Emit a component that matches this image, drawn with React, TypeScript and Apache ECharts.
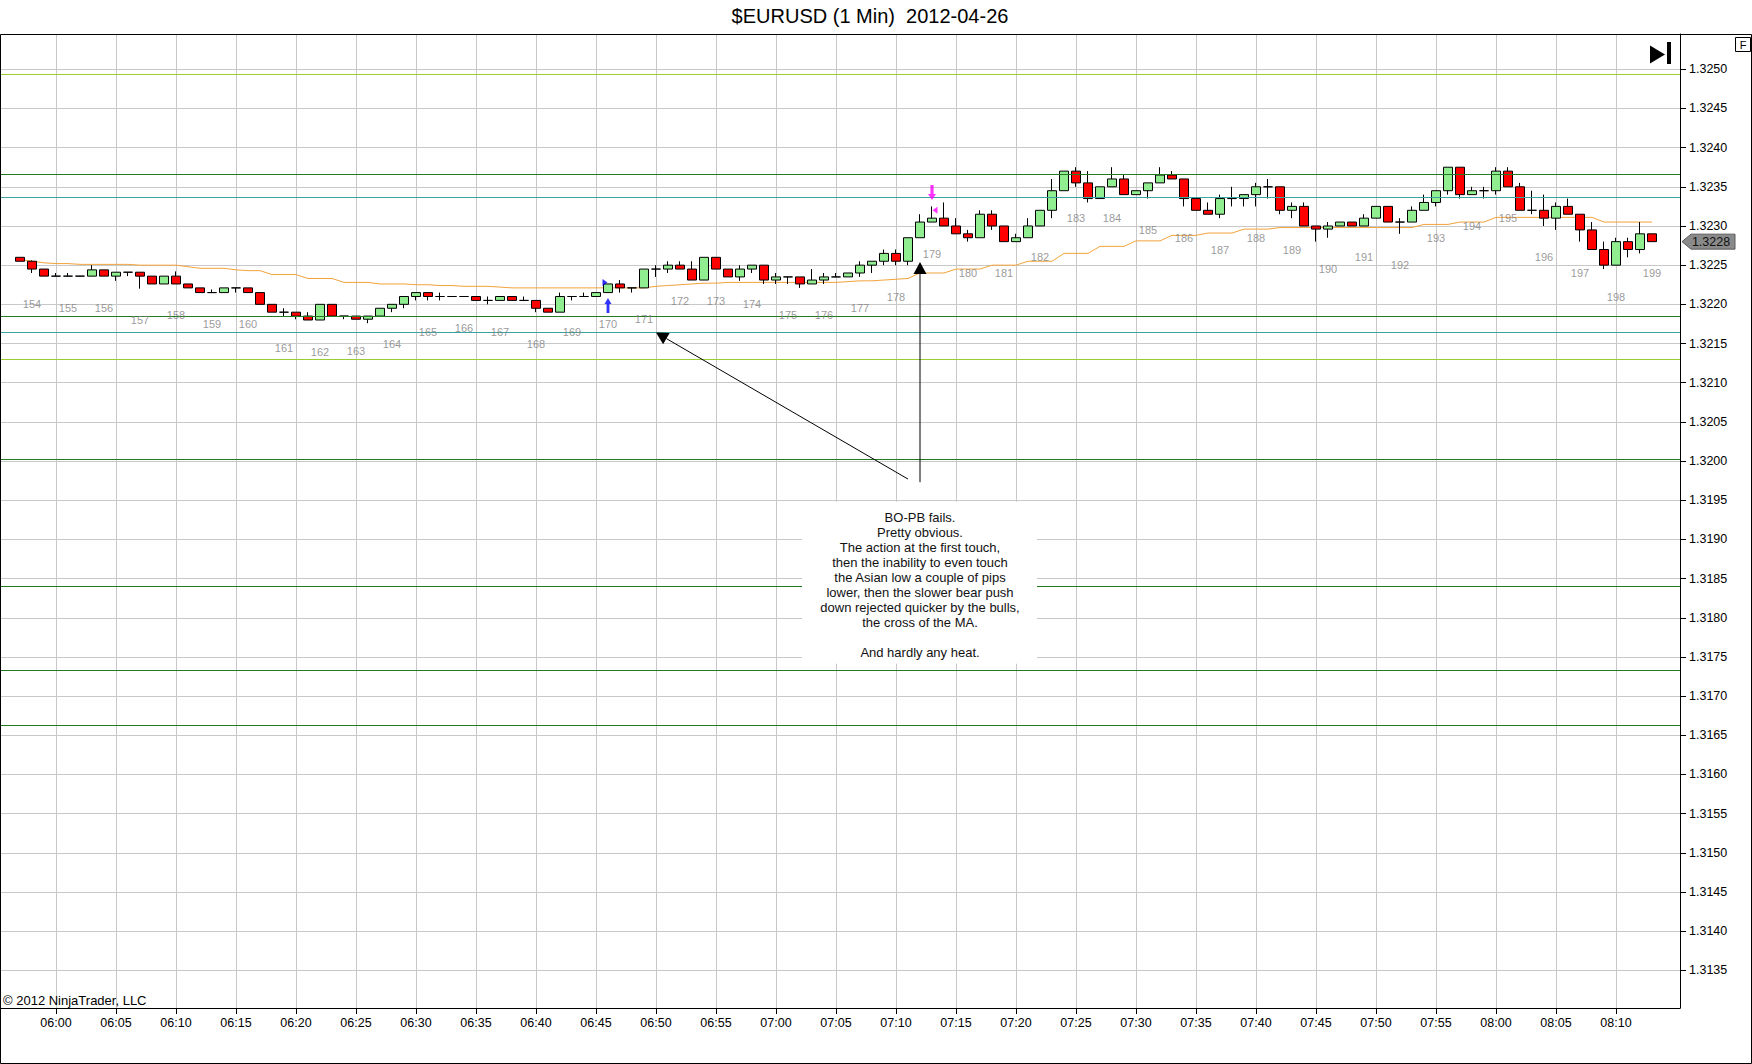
import React, { useEffect, useRef } from 'react';
import * as echarts from 'echarts';

const FONT = '"Liberation Sans", Arial, Helvetica, sans-serif';

// ---------- data ----------
const titleText = '$EURUSD (1 Min)  2012-04-26';
const firstBarTime = '05:57';

const opens = [
  1.3226, 1.32255, 1.32245, 1.32236, 1.32236, 1.32236, 1.32236, 1.32244, 1.32236, 1.32241,
  1.32241, 1.32236, 1.32226, 1.32236, 1.32226, 1.32221, 1.32215, 1.32215, 1.32221, 1.32221,
  1.32215, 1.322, 1.3219, 1.3219, 1.32185, 1.3218, 1.322, 1.32185, 1.32185, 1.32181,
  1.32185, 1.32195, 1.322, 1.3221, 1.32215, 1.3221, 1.3221, 1.3221, 1.3221, 1.32205,
  1.32205, 1.3221, 1.32205, 1.32205, 1.32195, 1.3219, 1.3221, 1.3221, 1.3221, 1.32215,
  1.32226, 1.32221, 1.32221, 1.32245, 1.32245, 1.3225, 1.32245, 1.32231, 1.3226, 1.32245,
  1.32235, 1.32245, 1.3225, 1.32231, 1.32235, 1.32235, 1.32226, 1.32231, 1.32235, 1.32235,
  1.3224, 1.3225, 1.32255, 1.32265, 1.32255, 1.32285, 1.32305, 1.3231, 1.323, 1.3229,
  1.32285, 1.32315, 1.323, 1.3228, 1.32285, 1.323, 1.3232, 1.32345, 1.3237, 1.32355,
  1.32335, 1.3235, 1.3236, 1.3234, 1.32345, 1.32355, 1.32365, 1.3236, 1.32335, 1.3232,
  1.32315, 1.32335, 1.32335, 1.3234, 1.3235, 1.3235, 1.3232, 1.32325, 1.323, 1.32296,
  1.323, 1.32305, 1.323, 1.3231, 1.32325, 1.32305, 1.32305, 1.3232, 1.3233, 1.32345,
  1.32375, 1.3234, 1.32345, 1.32345, 1.3237, 1.3235, 1.3232, 1.3232, 1.3231, 1.32325,
  1.32315, 1.32295, 1.3227, 1.3225, 1.3228, 1.3227, 1.3229,
];
const closes = [
  1.32255, 1.32245, 1.32236, 1.32236, 1.32236, 1.32236, 1.32244, 1.32236, 1.32241, 1.32241,
  1.32236, 1.32226, 1.32236, 1.32226, 1.32221, 1.32215, 1.32215, 1.32221, 1.32221, 1.32215,
  1.322, 1.3219, 1.3219, 1.32185, 1.3218, 1.322, 1.32185, 1.32185, 1.32181, 1.32185,
  1.32195, 1.322, 1.3221, 1.32215, 1.3221, 1.3221, 1.3221, 1.3221, 1.32205, 1.32205,
  1.3221, 1.32205, 1.32205, 1.32195, 1.3219, 1.3221, 1.3221, 1.3221, 1.32215, 1.32226,
  1.32221, 1.32221, 1.32245, 1.32245, 1.3225, 1.32245, 1.32231, 1.3226, 1.32245, 1.32235,
  1.32245, 1.3225, 1.32231, 1.32235, 1.32235, 1.32226, 1.32231, 1.32235, 1.32235, 1.3224,
  1.3225, 1.32255, 1.32265, 1.32255, 1.32285, 1.32305, 1.3231, 1.323, 1.3229, 1.32285,
  1.32315, 1.323, 1.3228, 1.32285, 1.323, 1.3232, 1.32345, 1.3237, 1.32355, 1.32335,
  1.3235, 1.3236, 1.3234, 1.32345, 1.32355, 1.32365, 1.3236, 1.32335, 1.3232, 1.32315,
  1.32335, 1.32335, 1.3234, 1.3235, 1.3235, 1.3232, 1.32325, 1.323, 1.32296, 1.323,
  1.32305, 1.323, 1.3231, 1.32325, 1.32305, 1.32305, 1.3232, 1.3233, 1.32345, 1.32375,
  1.3234, 1.32345, 1.32345, 1.3237, 1.3235, 1.3232, 1.3232, 1.3231, 1.32325, 1.32315,
  1.32295, 1.3227, 1.3225, 1.3228, 1.3227, 1.3229, 1.3228,
];
const highs = [
  1.3226, 1.32256, 1.32245, 1.3224, 1.3224, 1.32236, 1.3225, 1.32244, 1.32241, 1.32241,
  1.32241, 1.32236, 1.32236, 1.32242, 1.32226, 1.32221, 1.32219, 1.32221, 1.32221, 1.32221,
  1.32215, 1.322, 1.32195, 1.3219, 1.3219, 1.322, 1.322, 1.32185, 1.32185, 1.32185,
  1.32195, 1.322, 1.3221, 1.32215, 1.32215, 1.32215, 1.3221, 1.3221, 1.3221, 1.3221,
  1.3221, 1.3221, 1.3221, 1.32205, 1.32195, 1.32215, 1.3221, 1.32215, 1.32215, 1.32226,
  1.32231, 1.32221, 1.32245, 1.3225, 1.32255, 1.32255, 1.32255, 1.3226, 1.3226, 1.32245,
  1.3225, 1.3225, 1.3225, 1.3224, 1.32235, 1.32235, 1.32245, 1.3224, 1.3224, 1.3224,
  1.32255, 1.32255, 1.3227, 1.3227, 1.32285, 1.32315, 1.32325, 1.3233, 1.3231, 1.32295,
  1.3232, 1.3232, 1.323, 1.3229, 1.3231, 1.3232, 1.3236, 1.3237, 1.32375, 1.3237,
  1.3235, 1.32375, 1.32365, 1.32345, 1.32355, 1.32375, 1.3237, 1.3236, 1.32335, 1.3233,
  1.3234, 1.3235, 1.3234, 1.32355, 1.3236, 1.3235, 1.3233, 1.3233, 1.323, 1.32305,
  1.32305, 1.32305, 1.32315, 1.32325, 1.32325, 1.3231, 1.32325, 1.3234, 1.32345, 1.32375,
  1.32375, 1.3235, 1.3235, 1.32375, 1.32375, 1.32355, 1.32345, 1.3234, 1.3233, 1.32335,
  1.32315, 1.32305, 1.3228, 1.32285, 1.32285, 1.32305, 1.3229,
];
const lows = [
  1.32255, 1.3224, 1.32236, 1.32236, 1.32236, 1.32236, 1.32236, 1.32236, 1.3223, 1.32236,
  1.3222, 1.32226, 1.32226, 1.32226, 1.32221, 1.32215, 1.32215, 1.32215, 1.32215, 1.32215,
  1.322, 1.3219, 1.32185, 1.32181, 1.3218, 1.3218, 1.32185, 1.32181, 1.32181, 1.32176,
  1.32185, 1.3219, 1.32195, 1.32205, 1.32205, 1.32205, 1.3221, 1.3221, 1.32205, 1.322,
  1.32205, 1.32205, 1.32205, 1.3219, 1.3219, 1.3219, 1.32205, 1.3221, 1.3221, 1.32215,
  1.32215, 1.32215, 1.32221, 1.32235, 1.3224, 1.32245, 1.32231, 1.32231, 1.32245, 1.32235,
  1.3223, 1.3224, 1.32226, 1.32226, 1.32226, 1.32221, 1.32226, 1.32226, 1.32235, 1.32235,
  1.32235, 1.3224, 1.3225, 1.3225, 1.3225, 1.32285, 1.32305, 1.323, 1.3229, 1.3228,
  1.32285, 1.32295, 1.3228, 1.3228, 1.32285, 1.323, 1.3231, 1.32345, 1.3235, 1.3233,
  1.32335, 1.3235, 1.3234, 1.3234, 1.32335, 1.32355, 1.3236, 1.32325, 1.3232, 1.32315,
  1.3231, 1.32325, 1.32325, 1.32325, 1.32335, 1.32315, 1.3231, 1.323, 1.3228, 1.32285,
  1.323, 1.323, 1.323, 1.3231, 1.32305, 1.3229, 1.32305, 1.3232, 1.32325, 1.3234,
  1.32335, 1.3234, 1.32335, 1.3234, 1.3235, 1.3232, 1.32315, 1.323, 1.32295, 1.32315,
  1.3228, 1.3227, 1.32245, 1.3225, 1.3226, 1.32265, 1.3228,
];
const maValues = [
  1.32257, 1.32255, 1.32253, 1.32252, 1.32252, 1.32251, 1.32251, 1.32251, 1.32251, 1.32251,
  1.3225, 1.3225, 1.3225, 1.3225, 1.32248, 1.32246, 1.32246, 1.32246, 1.32244, 1.32243,
  1.32243, 1.32238, 1.32238, 1.32238, 1.32233, 1.32233, 1.32233, 1.32228, 1.32228, 1.32228,
  1.32226, 1.32226, 1.32226, 1.32225, 1.32225, 1.32224, 1.32224, 1.32223, 1.32223, 1.32223,
  1.32222, 1.32221, 1.32221, 1.32221, 1.32221, 1.32221, 1.32221, 1.32221, 1.32221, 1.32221,
  1.32221, 1.32221, 1.32221, 1.32223, 1.32224, 1.32225, 1.32226, 1.32227, 1.32227, 1.32228,
  1.32228, 1.32228, 1.32228, 1.32228, 1.32228, 1.32228, 1.32228, 1.32228, 1.32228, 1.32229,
  1.3223, 1.3223, 1.32231, 1.32232, 1.32233, 1.3224, 1.3224, 1.3224, 1.32245, 1.32245,
  1.32245, 1.3225, 1.3225, 1.3225, 1.32255, 1.32255, 1.32255, 1.32265, 1.32265, 1.32265,
  1.32274, 1.32274, 1.32274, 1.32281, 1.32281, 1.32281, 1.32288, 1.32288, 1.32288, 1.32291,
  1.32291, 1.32291, 1.32296, 1.32296, 1.32296, 1.32298, 1.32298, 1.32298, 1.32298, 1.32298,
  1.32298, 1.32298, 1.32298, 1.32298, 1.32298, 1.32298, 1.32298, 1.32302, 1.32302, 1.32302,
  1.32305, 1.32305, 1.32305, 1.32311, 1.32311, 1.32311, 1.32311, 1.32311, 1.32311, 1.32311,
  1.32311, 1.32311, 1.32305, 1.32305, 1.32305, 1.32305, 1.32305,
];

const barCountLabels = [
  154, 155, 156, 157, 158, 159, 160, 161, 162, 163, 164, 165, 166, 167, 168, 169,
  170, 171, 172, 173, 174, 175, 176, 177, 178, 179, 180, 181, 182, 183, 184, 185,
  186, 187, 188, 189, 190, 191, 192, 193, 194, 195, 196, 197, 198, 199,
];
const barCountTimes = [
  '05:58', '06:01', '06:04', '06:07', '06:10', '06:13', '06:16', '06:19', '06:22', '06:25',
  '06:28', '06:31', '06:34', '06:37', '06:40', '06:43', '06:46', '06:49', '06:52', '06:55',
  '06:58', '07:01', '07:04', '07:07', '07:10', '07:13', '07:16', '07:19', '07:22', '07:25',
  '07:28', '07:31', '07:34', '07:37', '07:40', '07:43', '07:46', '07:49', '07:52', '07:55',
  '07:58', '08:01', '08:04', '08:07', '08:10', '08:13',
];

const xTickLabels = [
  '06:00', '06:05', '06:10', '06:15', '06:20', '06:25', '06:30', '06:35', '06:40',
  '06:45', '06:50', '06:55', '07:00', '07:05', '07:10', '07:15', '07:20', '07:25',
  '07:30', '07:35', '07:40', '07:45', '07:50', '07:55', '08:00', '08:05', '08:10',
];
const yTickLabels = [
  '1.3135', '1.3140', '1.3145', '1.3150', '1.3155', '1.3160', '1.3165', '1.3170',
  '1.3175', '1.3180', '1.3185', '1.3190', '1.3195', '1.3200', '1.3205', '1.3210',
  '1.3215', '1.3220', '1.3225', '1.3230', '1.3235', '1.3240', '1.3245', '1.3250',
];

const levelPrices = [1.32493, 1.32366, 1.32337, 1.32185, 1.32164, 1.3213, 1.32002, 1.3184, 1.31733, 1.31663];
const levelKinds = ['light', 'dark', 'teal', 'dark', 'teal', 'light', 'dark', 'dark', 'dark', 'dark'];

const longSignalTime = '06:46';
const shortSignalTime = '07:13';
const entryTime = '06:46';
const entryPrice = 1.32228;
const exitTime = '07:13';
const exitPrice = 1.3232;

const arrowFromTimes = ['07:11', '07:12'];
const arrowFromPrices = [1.31977, 1.31973];
const arrowToTimes = ['06:50', '07:12'];
const arrowToPrices = [1.32164, 1.32254];

const noteTime = '07:12';
const noteTopPrice = 1.31948;
const noteLines = [
  'BO-PB fails.',
  'Pretty obvious.',
  'The action at the first touch,',
  'then the inability to even touch',
  'the Asian low a couple of pips',
  'lower, then the slower bear push',
  'down rejected quicker by the bulls,',
  'the cross of the MA.',
  '',
  'And hardly any heat.',
];

const xRange = [-4.583, 135.333]; // minutes from 06:00 shown in plot
const yRange = [1.31302, 1.32545];

// ---------- helpers ----------
const toMin = (t: string) => {
  const [h, m] = t.split(':').map(Number);
  return h * 60 + m - 360;
};

const levelColor: Record<string, string> = {
  light: '#9ACD32',
  dark: '#227A22',
  teal: '#3CA3A3',
};

export default function App() {
  const ref = useRef<HTMLDivElement>(null);

  useEffect(() => {
    const el = ref.current!;
    const chart = echarts.init(el, null, { renderer: 'svg', width: 1752, height: 1064 });
    const first = toMin(firstBarTime);

    const candleData = opens.map((o, k) => [first + k, o, closes[k], lows[k], highs[k]]);
    const maData = maValues.map((v, k) => [first + k, v]);
    const labelData = barCountTimes.map((t, k) => {
      const idx = toMin(t) - first;
      return [toMin(t), lows[idx], barCountLabels[k]];
    });
    const xTickValues = xTickLabels.map(toMin);
    const yTickValues = yTickLabels.map(Number);
    const longIdx = toMin(longSignalTime) - first;
    const shortIdx = toMin(shortSignalTime) - first;

    const gridColor = '#C8C8C8';

    const option: any = {
      animation: false,
      backgroundColor: '#ffffff',
      grid: { left: 1, top: 34, right: 72, bottom: 56, containLabel: false, outerBoundsMode: 'none' },
      xAxis: {
        type: 'value',
        min: xRange[0],
        max: xRange[1],
        axisLine: { show: true, onZero: false, lineStyle: { color: '#000', width: 1 } },
        axisTick: { show: true, length: 6, customValues: xTickValues, lineStyle: { color: '#000' } },
        axisLabel: {
          show: true,
          customValues: xTickValues,
          margin: 8,
          color: '#000',
          fontSize: 12.5,
          fontFamily: FONT,
          formatter: (v: number) => {
            const k = Math.round((v - xTickValues[0]) / 5);
            return xTickLabels[k] ?? '';
          },
        },
        splitLine: { show: false },
      },
      yAxis: {
        type: 'value',
        position: 'right',
        min: yRange[0],
        max: yRange[1],
        axisLine: { show: true, onZero: false, lineStyle: { color: '#000', width: 1 } },
        axisTick: { show: true, length: 6, customValues: yTickValues, lineStyle: { color: '#000' } },
        axisLabel: {
          show: true,
          customValues: yTickValues,
          margin: 9,
          color: '#000',
          fontSize: 12.5,
          fontFamily: FONT,
          formatter: (v: number) => v.toFixed(4),
        },
        splitLine: { show: false },
      },
      series: [
        {
          type: 'line',
          name: 'grid',
          data: [[xTickValues[0], yTickValues[5]]],
          symbol: 'none',
          lineStyle: { width: 0 },
          silent: true,
          z: 0,
          markLine: {
            silent: true,
            z: 0,
            precision: 6,
            symbol: ['none', 'none'],
            label: { show: false },
            lineStyle: { color: gridColor, width: 1, type: 'solid' },
            emphasis: { disabled: true },
            data: [
              ...xTickValues.map((v) => ({ xAxis: v })),
              ...yTickValues.map((v) => ({ yAxis: v })),
            ],
          },
        },
        {
          type: 'line',
          name: 'MA',
          data: maData,
          symbol: 'none',
          silent: true,
          z: 1,
          lineStyle: { color: '#F2A33A', width: 1 },
        },
        {
          type: 'candlestick',
          name: 'EURUSD',
          data: candleData,
          encode: { x: 0, y: [1, 2, 3, 4] },
          barWidth: 9,
          silent: true,
          z: 2,
          itemStyle: {
            color: '#90EE90',
            color0: '#FF0000',
            borderColor: '#000000',
            borderColor0: '#000000',
            borderColorDoji: '#000000',
            borderWidth: 1,
          },
        },
        {
          type: 'line',
          name: 'levels',
          data: [[xTickValues[0], yTickValues[5]]],
          symbol: 'none',
          lineStyle: { width: 0 },
          silent: true,
          z: 3,
          markLine: {
            silent: true,
            z: 3,
            precision: 6,
            symbol: ['none', 'none'],
            label: { show: false },
            emphasis: { disabled: true },
            data: levelPrices.map((p, k) => ({
              yAxis: p,
              lineStyle: { color: levelColor[levelKinds[k]], width: 1, type: 'solid' },
            })),
          },
        },
        {
          type: 'scatter',
          name: 'barcount',
          data: labelData,
          symbolSize: 0,
          silent: true,
          z: 4,
          label: {
            show: true,
            position: 'inside',
            offset: [0, 31.5],
            color: '#808080',
            fontSize: 11,
            fontFamily: FONT,
            formatter: (p: any) => String(p.value[2]),
          },
        },
        {
          type: 'scatter',
          name: 'signals',
          silent: true,
          z: 5,
          data: [
            {
              value: [toMin(longSignalTime), lows[longIdx]],
              symbol: 'path://M5,0L10,6L7,6L7,15L3,15L3,6L0,6Z',
              symbolSize: [7, 15],
              symbolOffset: [0, 13],
              itemStyle: { color: '#0000FF' },
            },
            {
              value: [toMin(shortSignalTime), highs[shortIdx]],
              symbol: 'path://M3,0L7,0L7,9L10,9L5,15L0,9L3,9Z',
              symbolSize: [8, 15],
              symbolOffset: [0, -14],
              itemStyle: { color: '#FF00FF' },
            },
            {
              value: [toMin(entryTime), entryPrice],
              symbol: 'path://M0,0L10,6L0,12Z',
              symbolSize: [5, 7],
              symbolOffset: [-3, 0],
              itemStyle: { color: '#0000FF' },
            },
            {
              value: [toMin(exitTime), exitPrice],
              symbol: 'path://M10,0L0,6L10,12Z',
              symbolSize: [5, 7],
              symbolOffset: [3, 0],
              itemStyle: { color: '#FF00FF' },
            },
          ],
        },
      ],
    };

    chart.setOption(option);

    // ---------- annotations positioned through the chart's own scales ----------
    const toPx = (t: number, p: number) => chart.convertToPixel({ gridIndex: 0 }, [t, p]) as number[];
    const graphics: any[] = [];

    arrowFromTimes.forEach((ft, k) => {
      const s = toPx(toMin(ft), arrowFromPrices[k]);
      const e = toPx(toMin(arrowToTimes[k]), arrowToPrices[k]);
      const dx = e[0] - s[0];
      const dy = e[1] - s[1];
      const len = Math.hypot(dx, dy);
      const ux = dx / len;
      const uy = dy / len;
      const headL = 12;
      const headW = 6.5;
      const bx = e[0] - ux * headL;
      const by = e[1] - uy * headL;
      graphics.push({
        type: 'line',
        silent: true,
        z: 20,
        shape: { x1: s[0], y1: s[1], x2: bx, y2: by },
        style: { stroke: '#000', lineWidth: 1 },
      });
      graphics.push({
        type: 'polygon',
        silent: true,
        z: 20,
        shape: {
          points: [
            [e[0], e[1]],
            [bx - uy * headW, by + ux * headW],
            [bx + uy * headW, by - ux * headW],
          ],
        },
        style: { fill: '#000' },
      });
    });

    const noteAnchor = toPx(toMin(noteTime), noteTopPrice);
    graphics.push({
      type: 'rect',
      silent: true,
      z: 15,
      shape: { x: noteAnchor[0] - 118, y: noteAnchor[1], width: 235, height: 162 },
      style: { fill: '#ffffff' },
    });
    graphics.push({
      type: 'text',
      silent: true,
      z: 16,
      x: noteAnchor[0],
      y: noteAnchor[1] + 7.8,
      style: {
        text: noteLines.join('\n'),
        fill: '#111',
        fontSize: 13,
        fontFamily: FONT,
        lineHeight: 15,
        align: 'center',
        verticalAlign: 'top',
      },
    });

    // last price tag
    const lastClose = closes[closes.length - 1];
    const lp = toPx(xRange[1], lastClose);
    const ax = lp[0];
    const ly = lp[1];
    graphics.push({
      type: 'polygon',
      silent: true,
      z: 20,
      shape: {
        points: [
          [ax + 2, ly],
          [ax + 11, ly - 7.5],
          [ax + 55, ly - 7.5],
          [ax + 55, ly + 7.5],
          [ax + 11, ly + 7.5],
        ],
      },
      style: { fill: '#8A8A8A', stroke: '#5A5A5A', lineWidth: 1 },
    });
    graphics.push({
      type: 'text',
      silent: true,
      z: 21,
      x: ax + 31,
      y: ly,
      style: {
        text: lastClose.toFixed(4),
        fill: '#111',
        fontSize: 12.5,
        fontFamily: FONT,
        align: 'center',
        verticalAlign: 'middle',
      },
    });

    // title, frame, decorations
    graphics.push({
      type: 'text',
      silent: true,
      z: 20,
      x: 870,
      y: 16,
      style: {
        text: titleText,
        fill: '#000',
        fontSize: 20,
        fontFamily: FONT,
        align: 'center',
        verticalAlign: 'middle',
      },
    });
    graphics.push({
      type: 'rect',
      silent: true,
      z: 30,
      shape: { x: 0.5, y: 34.5, width: 1751, height: 1029 },
      style: { fill: 'none', stroke: '#000', lineWidth: 1 },
    });
    graphics.push({
      type: 'text',
      silent: true,
      z: 20,
      x: 3,
      y: 1000.5,
      style: {
        text: '\u00A9 2012 NinjaTrader, LLC',
        fill: '#000',
        fontSize: 13,
        fontFamily: FONT,
        align: 'left',
        verticalAlign: 'middle',
      },
    });
    graphics.push({
      type: 'polygon',
      silent: true,
      z: 20,
      shape: { points: [[1650, 45.5], [1665, 54.5], [1650, 63.5]] },
      style: { fill: '#000' },
    });
    graphics.push({
      type: 'rect',
      silent: true,
      z: 20,
      shape: { x: 1667, y: 42, width: 4, height: 22 },
      style: { fill: '#000' },
    });
    graphics.push({
      type: 'rect',
      silent: true,
      z: 20,
      shape: { x: 1735.5, y: 37.5, width: 15, height: 14 },
      style: { fill: '#fff', stroke: '#000', lineWidth: 1 },
    });
    graphics.push({
      type: 'text',
      silent: true,
      z: 21,
      x: 1743,
      y: 44.8,
      style: {
        text: 'F',
        fill: '#000',
        fontSize: 11,
        fontFamily: FONT,
        align: 'center',
        verticalAlign: 'middle',
      },
    });

    chart.setOption({ graphic: graphics });

    return () => {
      chart.dispose();
    };
  }, []);

  return (
    <div
      ref={ref}
      style={{ position: 'fixed', left: 0, top: 0, width: 1752, height: 1064, background: '#ffffff' }}
    />
  );
}
